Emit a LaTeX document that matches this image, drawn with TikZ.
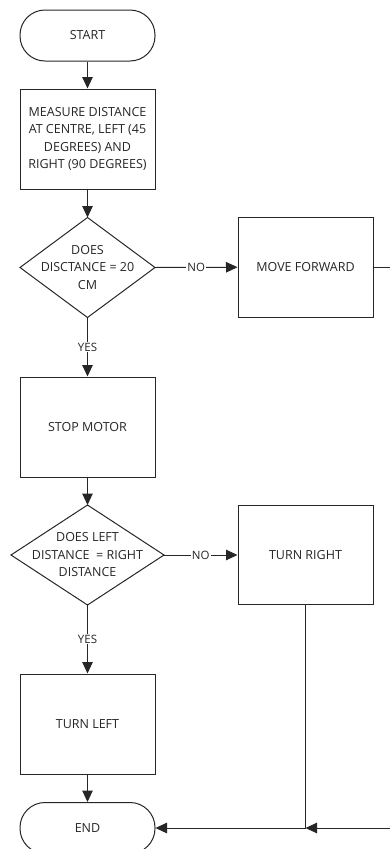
\documentclass[tikz,border=0pt]{standalone}
\usepackage{fontspec}
\setmainfont{Open Sans}
\usetikzlibrary{arrows.meta}
\definecolor{ink}{HTML}{262626}
\begin{document}
\begin{tikzpicture}[x=1pt,y=-1pt,line width=1pt,
  every node/.style={font=\fontsize{12.5}{17.5}\selectfont, align=center, text=ink},
  term/.style={draw=ink, rounded corners=25pt, minimum width=135pt, minimum height=51pt, inner sep=0pt},
  proc/.style={draw=ink, minimum width=135pt, minimum height=100pt, inner sep=0pt},
  dec/.style={minimum width=#1, minimum height=99pt, inner sep=0pt},
  ln/.style={draw=ink},
  arr/.style={draw=ink, -{Triangle[width=10.5pt,length=11.5pt]}},
  lbl/.style={fill=white, inner sep=1pt, font=\fontsize{11.5}{14}\selectfont}
]
\useasboundingbox (0,0) rectangle (390,849);
\clip (0,0) rectangle (390,849);
\node[term] (start) at (87.5,35.5) {START};
\node[proc] (measure) at (87.5,139) {MEASURE DISTANCE\\AT CENTRE, LEFT (45\\DEGREES) AND\\RIGHT (90 DEGREES)};
\node[dec=134pt] (d1) at (87.5,267.5) {DOES\\DISCTANCE = 20\\CM};
\draw[ln] (d1.north) -- (d1.east) -- (d1.south) -- (d1.west) -- cycle;
\node[proc] (mf) at (305.5,267) {MOVE FORWARD};
\node[proc] (stop) at (87.5,427) {STOP MOTOR};
\node[dec=152pt] (d2) at (87.5,555) {DOES LEFT\\DISTANCE\ \ = RIGHT\\DISTANCE};
\draw[ln] (d2.north) -- (d2.east) -- (d2.south) -- (d2.west) -- cycle;
\node[proc, minimum height=99pt] (tr) at (305.5,555) {TURN RIGHT};
\node[proc] (tl) at (87.5,724) {TURN LEFT};
\node[term] (end) at (87.5,828) {END};
\coordinate (j) at (tr.south |- end.east);
\coordinate (far) at (400,267);
\draw[arr] (start) -- (measure);
\draw[arr] (measure) -- (d1.north);
\draw[arr] (d1.east) -- node[lbl]{NO} (mf);
\draw[arr] (d1.south) -- node[lbl]{YES} (stop);
\draw[arr] (stop) -- (d2.north);
\draw[arr] (d2.east) -- node[lbl]{NO} (tr);
\draw[arr] (d2.south) -- node[lbl]{YES} (tl);
\draw[arr] (tl) -- (end);
\draw[ln] (tr.south) -- (j);
\draw[arr] (j) -- (end.east);
\draw[arr] (mf.east) -- (far) |- (j);
\end{tikzpicture}
\end{document}
